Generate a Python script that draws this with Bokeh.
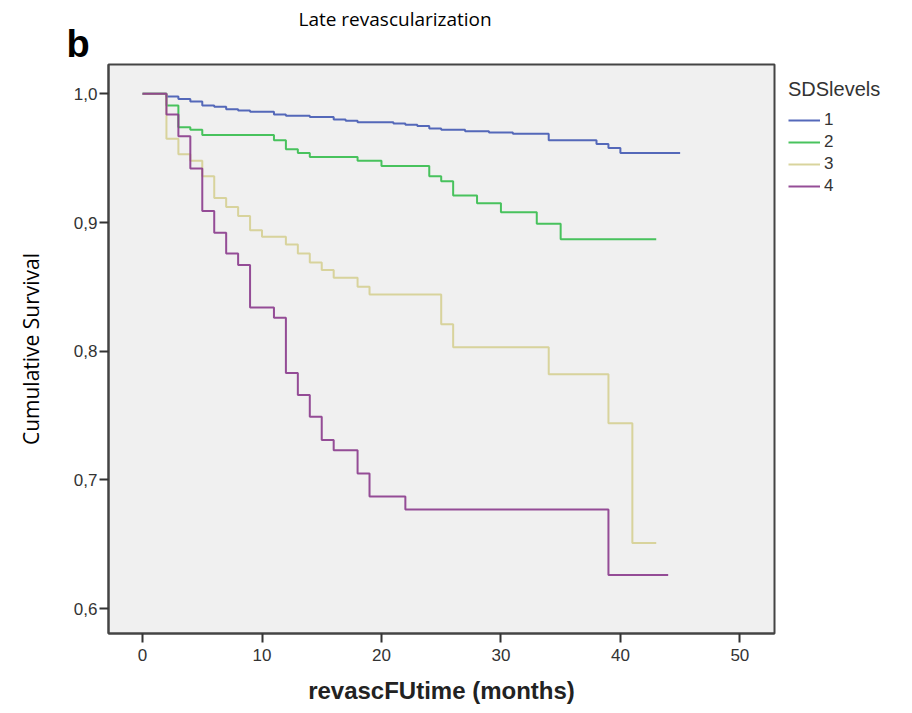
from bokeh.plotting import figure
from bokeh.models import Range1d, FixedTicker, CustomJSTickFormatter, Legend, LegendItem, Title
from bokeh.embed import file_html
from bokeh.resources import INLINE

# ---- data ----
levels = ["1", "2", "3", "4"]

t1 = [0, 2, 3, 4, 5, 6, 7, 8, 9, 11, 12, 14, 16, 17, 18, 21, 22, 23, 24, 25, 27, 29, 31, 34, 38, 39, 40]
s1 = [1.0, 0.998, 0.996, 0.994, 0.991, 0.990, 0.988, 0.987, 0.986, 0.984, 0.983, 0.982, 0.980, 0.979,
      0.978, 0.977, 0.976, 0.975, 0.973, 0.972, 0.971, 0.970, 0.969, 0.964, 0.961, 0.958, 0.954]
end1 = 45

t2 = [0, 2, 3, 4, 5, 11, 12, 13, 14, 18, 20, 24, 25, 26, 28, 30, 33, 35]
s2 = [1.0, 0.991, 0.974, 0.972, 0.968, 0.964, 0.957, 0.954, 0.951, 0.948, 0.944, 0.936, 0.932,
      0.921, 0.915, 0.908, 0.899, 0.887]
end2 = 43

t3 = [0, 2, 3, 4, 5, 6, 7, 8, 9, 10, 12, 13, 14, 15, 16, 18, 19, 25, 26, 34, 39, 41]
s3 = [1.0, 0.965, 0.953, 0.948, 0.936, 0.919, 0.912, 0.905, 0.894, 0.889, 0.883, 0.876, 0.869,
      0.863, 0.857, 0.850, 0.844, 0.821, 0.803, 0.782, 0.744, 0.651]
end3 = 43

t4 = [0, 2, 3, 4, 5, 6, 7, 8, 9, 11, 12, 13, 14, 15, 16, 18, 19, 22, 39]
s4 = [1.0, 0.984, 0.967, 0.942, 0.909, 0.892, 0.876, 0.867, 0.834, 0.826, 0.783, 0.766, 0.749,
      0.731, 0.723, 0.705, 0.687, 0.677, 0.626]
end4 = 44

x_ticks = [0, 10, 20, 30, 40, 50]
y_ticks = [0.6, 0.7, 0.8, 0.9, 1.0]

colors = ["#4259b2", "#35bd4c", "#d5cf92", "#8a3a8c"]

# ---- figure ----
p = figure(frame_width=666, frame_height=569, output_backend="svg", toolbar_location=None,
           x_range=Range1d(-2.85, 52.9), y_range=Range1d(0.5806, 1.0228),
           min_border_left=108, min_border_right=10, min_border_top=64, min_border_bottom=80)

p.background_fill_color = "#f0f0f0"
p.border_fill_color = "white"
p.outline_line_color = "#444444"
p.outline_line_width = 2
p.xgrid.visible = False
p.ygrid.visible = False

series = [(t1, s1, end1), (t2, s2, end2), (t3, s3, end3), (t4, s4, end4)]
renderers = []
for (t, s, e), c in zip(series, colors):
    xs = list(t) + [e]
    ys = list(s) + [s[-1]]
    r = p.step(xs, ys, mode="after", line_color=c, line_width=2, line_alpha=0.9)
    renderers.append(r)

# axes
for ax in (p.xaxis[0], p.yaxis[0]):
    ax.axis_line_color = "#444444"
    ax.axis_line_width = 2
    ax.major_tick_line_color = "#333333"
    ax.major_tick_line_width = 2
    ax.major_tick_out = 9
    ax.major_tick_in = 0
    ax.minor_tick_line_color = None
    ax.major_label_text_font = "Liberation Sans"
    ax.major_label_text_font_size = "17px"
    ax.major_label_text_color = "#333333"

p.xaxis.ticker = FixedTicker(ticks=x_ticks)
p.yaxis.ticker = FixedTicker(ticks=y_ticks)
p.yaxis.formatter = CustomJSTickFormatter(code="return tick.toFixed(1).replace('.', ',');")
p.xaxis.major_label_standoff = 6
p.yaxis.major_label_standoff = 2

p.xaxis.axis_label = "revascFUtime (months)"
p.xaxis.axis_label_text_font = "Liberation Sans"
p.xaxis.axis_label_text_font_style = "bold"
p.xaxis.axis_label_text_font_size = "24px"
p.xaxis.axis_label_text_color = "#222222"
p.xaxis.axis_label_standoff = 13

p.yaxis.axis_label = "Cumulative Survival"
p.yaxis.axis_label_text_font = "Open Sans"
p.yaxis.axis_label_text_font_style = "normal"
p.yaxis.axis_label_text_font_size = "21px"
p.yaxis.axis_label_text_color = "#000000"
p.yaxis.axis_label_standoff = 26

# legend
items = [LegendItem(label=lv, renderers=[r]) for lv, r in zip(levels, renderers)]
legend = Legend(items=items, location="top_left", margin=14, padding=4,
                title="SDSlevels", title_text_font="Liberation Sans",
                title_text_font_size="20px", title_text_color="#333333",
                title_text_font_style="normal", title_standoff=9,
                glyph_width=32, glyph_height=18, label_standoff=4, spacing=2,
                label_text_font="Liberation Sans", label_text_font_size="17px",
                label_text_color="#333333", label_height=18,
                border_line_color=None, background_fill_alpha=0)
p.add_layout(legend, "right")

# titles (first added sits nearest the frame)
p.add_layout(Title(text="b", align="left", offset=-42, standoff=-1,
                   text_font="Liberation Sans", text_font_size="38px",
                   text_font_style="bold", text_color="#000000"), "above")
p.add_layout(Title(text="Late revascularization", align="left", offset=190, standoff=-20,
                   text_font="Open Sans", text_font_size="19px",
                   text_font_style="normal", text_color="#000000"), "above")

open("out.html", "w").write(file_html(p, INLINE))
